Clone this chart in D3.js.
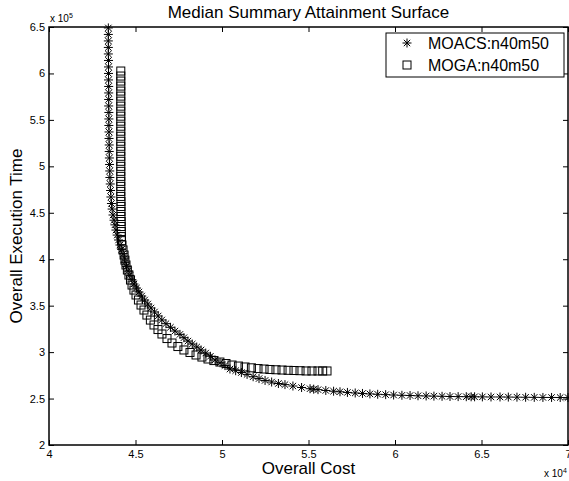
<!DOCTYPE html>
<html>
<head>
<meta charset="utf-8">
<script src="https://cdn.jsdelivr.net/npm/d3@7"></script>
<style>
  body { margin: 0; background: #fff; }
  text { font-family: Helvetica, Arial, "Liberation Sans", sans-serif; fill: #000; }
</style>
</head>
<body>
<div id="chart"></div>
<script>
// cost in units of 10^4, execution time in units of 10^5
var xTicks = [4, 4.5, 5, 5.5, 6, 6.5, 7];
var yTicks = [2, 2.5, 3, 3.5, 4, 4.5, 5, 5.5, 6, 6.5];

var moacsX = [4.343,4.343,4.343,4.343,4.343,4.344,4.344,4.344,4.344,4.345,4.345,4.345,4.345,4.346,4.346,4.346,4.347,4.347,4.348,4.348,4.349,4.350,4.351,4.352,4.354,4.356,4.358,4.361,
  4.365,4.370,4.376,4.381,4.387,4.394,4.402,4.410,4.420,4.429,4.437,4.440,4.448,4.458,4.468,4.479,4.491,4.506,4.520,4.536,4.553,4.571,4.590,4.610,4.631,4.652,4.676,4.702,4.728,4.757,4.780,4.803,4.828,4.854,4.879,4.906,4.933,4.960,4.989,5.017,5.046,5.079,5.112,5.145,5.180,5.214,5.249,5.287,5.326,5.364,
  5.410,5.460,5.509,5.530,5.555,5.600,5.645,5.682,5.725,5.770,5.812,5.855,5.900,5.946,5.992,6.040,6.087,6.133,6.180,6.225,6.272,6.318,6.365,6.412,6.440,6.460,6.505,6.555,6.607,6.655,6.705,6.755,6.805,6.855,6.905,6.955,7.000];
var moacsY = [6.49,6.42,6.35,6.28,6.21,6.14,6.07,6.00,5.93,5.86,5.79,5.72,5.65,5.58,5.51,5.44,5.37,5.30,5.23,5.16,5.09,5.02,4.95,4.88,4.81,4.74,4.67,4.60,
  4.54,4.476,4.42,4.37,4.314,4.26,4.207,4.153,4.106,4.06,4.013,3.966,3.92,3.873,3.826,3.78,3.733,3.69,3.647,3.604,3.561,3.518,3.475,3.432,3.389,3.346,3.306,3.267,3.227,3.191,3.155,3.119,3.087,3.055,3.023,2.990,2.955,2.915,2.885,2.855,2.818,2.800,2.780,2.760,2.735,2.715,2.695,2.678,2.662,2.650,
  2.635,2.619,2.606,2.601,2.596,2.587,2.579,2.573,2.566,2.560,2.555,2.550,2.546,2.542,2.538,2.535,2.533,2.530,2.528,2.526,2.524,2.522,2.521,2.520,2.519,2.519,2.518,2.517,2.517,2.516,2.515,2.514,2.513,2.512,2.512,2.511,2.511];

var mogaX = [4.415,4.415,4.415,4.415,4.415,4.415,4.415,4.415,4.415,4.415,4.415,4.415,4.415,4.415,4.415,4.415,4.415,4.415,4.415,4.415,4.415,4.415,4.415,4.415,4.415,4.415,4.416,4.416,4.416,4.416,4.417,4.417,4.418,4.418,
  4.419,4.422,4.428,4.434,4.439,4.445,4.453,4.462,4.471,4.480,4.491,4.503,4.517,4.532,4.549,4.566,4.586,4.607,4.630,4.653,4.682,4.711,4.745,4.780,4.815,4.850,4.884,4.919,4.953,4.988,5.023,5.058,5.095,5.133,5.170,5.208,5.243,5.277,5.312,5.347,5.382,5.416,5.451,5.486,5.520,5.555,5.582,5.607];
var mogaY = [6.026,5.972,5.918,5.864,5.810,5.756,5.702,5.648,5.594,5.540,5.486,5.432,5.378,5.324,5.270,5.216,5.162,5.108,5.054,5.000,4.946,4.892,4.838,4.784,4.730,4.676,4.622,4.568,4.514,4.460,4.406,4.352,4.298,4.244,
  4.200,4.153,4.100,4.045,3.990,3.938,3.884,3.830,3.776,3.722,3.668,3.615,3.561,3.507,3.453,3.399,3.345,3.292,3.243,3.195,3.146,3.098,3.060,3.023,2.996,2.969,2.947,2.926,2.909,2.893,2.877,2.861,2.850,2.840,2.831,2.823,2.818,2.813,2.810,2.807,2.804,2.802,2.800,2.797,2.797,2.797,2.797,2.797];

var seriesNames = ["MOACS:n40m50", "MOGA:n40m50"];

var W = 569, H = 481;
var padL = 49, padR = 568, padT = 27, padB = 445;

var svg = d3.select("#chart").append("svg")
    .attr("width", W)
    .attr("height", H);

var x = d3.scaleLinear().domain([4, 7]).range([padL, padR]);
var y = d3.scaleLinear().domain([2, 6.5]).range([padB, padT]);

// axes with inward ticks
var tickLen = 5;
svg.append("g")
    .attr("transform", "translate(0," + padB + ")")
    .call(d3.axisBottom(x).tickValues(xTicks).tickSize(-tickLen).tickPadding(5).tickFormat(d3.format("")))
    .call(g => g.select(".domain").remove());
svg.append("g")
    .attr("transform", "translate(0," + padT + ")")
    .call(d3.axisTop(x).tickValues(xTicks).tickSize(-tickLen).tickFormat(""))
    .call(g => g.select(".domain").remove());
svg.append("g")
    .attr("transform", "translate(" + padL + ",0)")
    .call(d3.axisLeft(y).tickValues(yTicks).tickSize(-tickLen).tickPadding(4).tickFormat(d3.format("")))
    .call(g => g.select(".domain").remove());
svg.append("g")
    .attr("transform", "translate(" + padR + ",0)")
    .call(d3.axisRight(y).tickValues(yTicks).tickSize(-tickLen).tickFormat(""))
    .call(g => g.select(".domain").remove());

svg.selectAll(".tick line").attr("stroke", "#000").attr("stroke-width", 1);
svg.selectAll(".tick text").style("font-size", "11px").attr("fill", "#000");

// frame
svg.append("rect")
    .attr("x", padL).attr("y", padT)
    .attr("width", padR - padL).attr("height", padB - padT)
    .attr("fill", "none").attr("stroke", "#000").attr("stroke-width", 1.5);

// markers
var r = 4.5, d = 3.2;
var starPath = "M" + (-r) + ",0H" + r + "M0," + (-r) + "V" + r +
    "M" + (-d) + "," + (-d) + "L" + d + "," + d + "M" + (-d) + "," + d + "L" + d + "," + (-d);

svg.append("g").selectAll("rect")
    .data(d3.range(mogaX.length))
    .enter().append("rect")
    .attr("x", i => x(mogaX[i]) - 4)
    .attr("y", i => y(mogaY[i]) - 4)
    .attr("width", 8).attr("height", 8)
    .attr("fill", "none").attr("stroke", "#000").attr("stroke-width", 1);

svg.append("g").selectAll("path")
    .data(d3.range(moacsX.length))
    .enter().append("path")
    .attr("d", starPath)
    .attr("transform", i => "translate(" + x(moacsX[i]) + "," + y(moacsY[i]) + ")")
    .attr("fill", "none").attr("stroke", "#000").attr("stroke-width", 1);

// title and labels
svg.append("text")
    .attr("x", (padL + padR) / 2).attr("y", 18)
    .attr("text-anchor", "middle")
    .style("font-size", "17px")
    .text("Median Summary Attainment Surface");

svg.append("text")
    .attr("x", (padL + padR) / 2).attr("y", 474)
    .attr("text-anchor", "middle")
    .style("font-size", "17px")
    .text("Overall Cost");

svg.append("text")
    .attr("transform", "translate(22," + ((padT + padB) / 2) + ") rotate(-90)")
    .attr("text-anchor", "middle")
    .style("font-size", "17px")
    .text("Overall Execution Time");

// exponent labels
var ex5 = svg.append("text").attr("x", 50).attr("y", 22).style("font-size", "10px");
ex5.append("tspan").text("x 10");
ex5.append("tspan").attr("dy", -4).style("font-size", "7px").text("5");

var ex4 = svg.append("text").attr("x", 544).attr("y", 477).style("font-size", "10px");
ex4.append("tspan").text("x 10");
ex4.append("tspan").attr("dy", -4).style("font-size", "7px").text("4");

// legend
var lg = svg.append("g");
lg.append("rect")
    .attr("x", 386).attr("y", 33).attr("width", 178).attr("height", 44)
    .attr("fill", "#fff").attr("stroke", "#000").attr("stroke-width", 1);
lg.append("path").attr("d", starPath)
    .attr("transform", "translate(407,43)")
    .attr("fill", "none").attr("stroke", "#000");
lg.append("rect")
    .attr("x", 403).attr("y", 61).attr("width", 8).attr("height", 8)
    .attr("fill", "none").attr("stroke", "#000");
lg.selectAll("text.leg")
    .data(seriesNames)
    .enter().append("text")
    .attr("class", "leg")
    .attr("x", 428)
    .attr("y", (s, i) => 49 + i * 22)
    .style("font-size", "16px")
    .text(s => s);
</script>
</body>
</html>
